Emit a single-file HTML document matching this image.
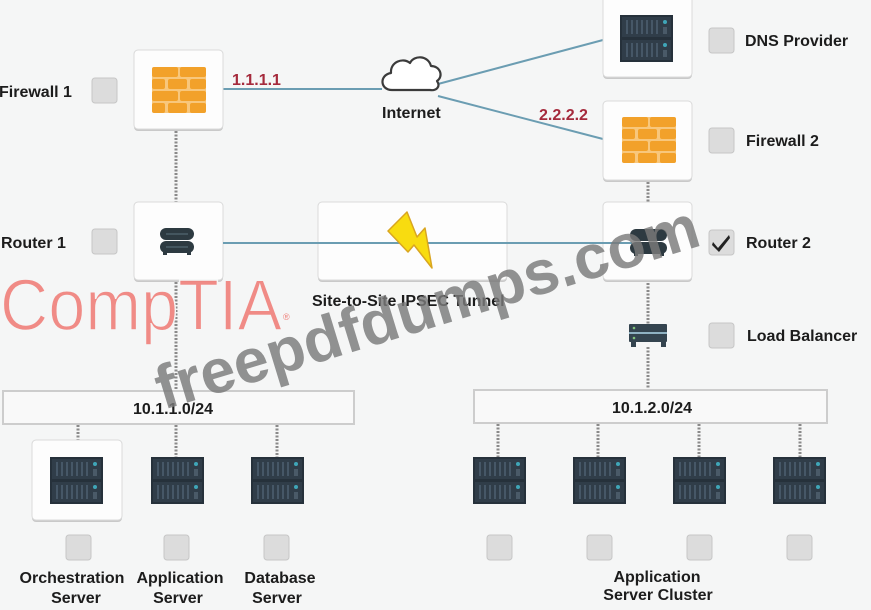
<!DOCTYPE html>
<html><head><meta charset="utf-8"><style>
html,body{margin:0;padding:0;background:#f5f6f6;}
svg{display:block;}
text{font-family:"Liberation Sans",Arial,sans-serif;}
</style></head><body>
<svg width="871" height="610" viewBox="0 0 871 610" xmlns="http://www.w3.org/2000/svg">
<defs>
<symbol id="srv" viewBox="0 0 53 47" width="53" height="47">
  <rect x="0" y="0" width="53" height="47" fill="#26313b"/>
  <rect x="2" y="2" width="49" height="20" fill="#303d49"/>
  <rect x="2" y="25" width="49" height="20" fill="#303d49"/>
  <g fill="#465767">
    <rect x="6" y="5" width="2" height="14"/><rect x="11" y="5" width="2" height="14"/><rect x="16" y="5" width="2" height="14"/><rect x="21" y="5" width="2" height="14"/><rect x="26" y="5" width="2" height="14"/><rect x="31" y="5" width="2" height="14"/><rect x="36" y="5" width="2" height="14"/>
    <rect x="6" y="28" width="2" height="14"/><rect x="11" y="28" width="2" height="14"/><rect x="16" y="28" width="2" height="14"/><rect x="21" y="28" width="2" height="14"/><rect x="26" y="28" width="2" height="14"/><rect x="31" y="28" width="2" height="14"/><rect x="36" y="28" width="2" height="14"/>
  </g>
  <circle cx="45" cy="7" r="2" fill="#3fa6b8"/>
  <circle cx="45" cy="30" r="2" fill="#3fa6b8"/>
  <rect x="43" y="12" width="4" height="7" fill="#4a5a68"/>
  <rect x="43" y="35" width="4" height="7" fill="#4a5a68"/>
</symbol>
<symbol id="fw" viewBox="0 0 54 46" width="54" height="46">
  <rect x="0" y="0" width="54" height="46" rx="3" fill="#f8c77c"/>
  <g fill="#f2a12a">
    <rect x="0" y="0" width="26" height="10" rx="2"/><rect x="28" y="0" width="26" height="10" rx="2"/>
    <rect x="0" y="12" width="13" height="10" rx="2"/><rect x="16" y="12" width="19" height="10" rx="2"/><rect x="38" y="12" width="16" height="10" rx="2"/>
    <rect x="0" y="24" width="26" height="10" rx="2"/><rect x="28" y="24" width="26" height="10" rx="2"/>
    <rect x="0" y="36" width="13" height="10" rx="2"/><rect x="16" y="36" width="19" height="10" rx="2"/><rect x="38" y="36" width="16" height="10" rx="2"/>
  </g>
</symbol>
</defs>

<!-- solid connectors -->
<g stroke="#6b9db2" stroke-width="2" fill="none">
  <line x1="223" y1="89" x2="382" y2="89"/>
  <line x1="438" y1="84" x2="603" y2="40"/>
  <line x1="438" y1="96" x2="603" y2="139"/>
</g>

<!-- dotted connectors -->
<g stroke="#8a8a8a" stroke-width="3" stroke-dasharray="2 1.5" fill="none">
  <line x1="176" y1="131" x2="176" y2="202"/>
  <line x1="176" y1="282" x2="176" y2="391"/>
  <line x1="648" y1="182" x2="648" y2="202"/>
  <line x1="648" y1="283" x2="648" y2="324"/>
  <line x1="648" y1="347" x2="648" y2="390"/>
  <line x1="78" y1="425" x2="78" y2="440"/>
  <line x1="176" y1="425" x2="176" y2="457"/>
  <line x1="277" y1="425" x2="277" y2="457"/>
  <line x1="498" y1="424" x2="498" y2="457"/>
  <line x1="598" y1="424" x2="598" y2="457"/>
  <line x1="699" y1="424" x2="699" y2="457"/>
  <line x1="800" y1="424" x2="800" y2="457"/>
</g>

<!-- boxes -->
<g>
  <rect x="134" y="52" width="89" height="79" rx="4" fill="#c9c9c9"/>
  <rect x="134" y="50" width="89" height="79" rx="4" fill="#fdfdfd" stroke="#dadada"/>
  <rect x="134" y="204" width="89" height="78" rx="4" fill="#c9c9c9"/>
  <rect x="134" y="202" width="89" height="78" rx="4" fill="#fdfdfd" stroke="#dadada"/>
  <rect x="318" y="204" width="189" height="78" rx="4" fill="#c9c9c9"/>
  <rect x="318" y="202" width="189" height="78" rx="4" fill="#fdfdfd" stroke="#dadada"/>
  <rect x="603" y="-3" width="89" height="82" rx="4" fill="#c9c9c9"/>
  <rect x="603" y="-5" width="89" height="82" rx="4" fill="#fdfdfd" stroke="#dadada"/>
  <rect x="603" y="103" width="89" height="79" rx="4" fill="#c9c9c9"/>
  <rect x="603" y="101" width="89" height="79" rx="4" fill="#fdfdfd" stroke="#dadada"/>
  <rect x="603" y="204" width="89" height="78" rx="4" fill="#c9c9c9"/>
  <rect x="603" y="202" width="89" height="78" rx="4" fill="#fdfdfd" stroke="#dadada"/>
  <rect x="32" y="442" width="90" height="80" rx="4" fill="#c9c9c9"/>
  <rect x="32" y="440" width="90" height="80" rx="4" fill="#fdfdfd" stroke="#dadada"/>
</g>

<!-- tunnel line -->
<line x1="223" y1="243" x2="632" y2="243" stroke="#6b9db2" stroke-width="2"/>

<!-- subnet bars -->
<rect x="3" y="391" width="351" height="33" fill="#f9f9f9" stroke="#cdcdcd" stroke-width="2"/>
<rect x="474" y="390" width="353" height="33" fill="#f9f9f9" stroke="#cdcdcd" stroke-width="2"/>

<!-- icons -->
<use href="#fw" x="152" y="67"/>
<use href="#fw" x="622" y="117"/>
<use href="#srv" x="620" y="15"/>
<use href="#srv" x="50" y="457"/>
<use href="#srv" x="151" y="457"/>
<use href="#srv" x="251" y="457"/>
<use href="#srv" x="473" y="457"/>
<use href="#srv" x="573" y="457"/>
<use href="#srv" x="673" y="457"/>
<use href="#srv" x="773" y="457"/>

<!-- cloud -->
<path d="M392 90 C380 90 379 75 391 73 C390 62 403 57 410 63 C414 55 428 55 431 66 C440 66 444 76 437 81 C441 87 436 91 430 90 Z" fill="#ffffff" stroke="#3b3b3b" stroke-width="2.2" stroke-linejoin="round"/>

<!-- router 1 -->
<g>
  <rect x="160" y="228" width="34" height="12" rx="6" fill="#2d3a41"/>
  <rect x="160" y="241" width="34" height="12" rx="6" fill="#2d3a41"/>
  <rect x="166" y="233" width="22" height="2" fill="#44565f"/>
  <rect x="166" y="246" width="22" height="2" fill="#44565f"/>
  <rect x="163" y="251" width="4" height="4" fill="#2d3a41"/>
  <rect x="187" y="251" width="4" height="4" fill="#2d3a41"/>
</g>
<!-- router 2 -->
<g>
  <rect x="630" y="229" width="37" height="12" rx="6" fill="#2d3a41"/>
  <rect x="630" y="242" width="37" height="12" rx="6" fill="#2d3a41"/>
  <rect x="634" y="252" width="4" height="4" fill="#2d3a41"/>
  <rect x="660" y="252" width="4" height="4" fill="#2d3a41"/>
</g>
<!-- load balancer -->
<g>
  <rect x="629" y="324" width="38" height="18" rx="1" fill="#34444f"/>
  <rect x="629" y="332" width="38" height="2" fill="#8fb2c2"/>
  <circle cx="634" cy="328" r="1.3" fill="#7fc27a"/>
  <circle cx="634" cy="338" r="1.3" fill="#7fc27a"/>
  <rect x="631" y="341" width="5" height="6" fill="#34444f"/>
  <rect x="661" y="341" width="5" height="6" fill="#34444f"/>
</g>

<!-- lightning -->
<polygon points="407,212 388,231 408,252 414,245 432,268 425,228 417,237" fill="#f8dc10" stroke="#d9a520" stroke-width="1.5" stroke-linejoin="round"/>

<!-- checkboxes -->
<g fill="#dcdcdc" stroke="#c6c6c6" stroke-width="1">
  <rect x="92" y="78" width="25" height="25" rx="3"/>
  <rect x="92" y="229" width="25" height="25" rx="3"/>
  <rect x="709" y="28" width="25" height="25" rx="3"/>
  <rect x="709" y="128" width="25" height="25" rx="3"/>
  <rect x="709" y="230" width="25" height="25" rx="3"/>
  <rect x="709" y="323" width="25" height="25" rx="3"/>
  <rect x="66" y="535" width="25" height="25" rx="3"/>
  <rect x="164" y="535" width="25" height="25" rx="3"/>
  <rect x="264" y="535" width="25" height="25" rx="3"/>
  <rect x="487" y="535" width="25" height="25" rx="3"/>
  <rect x="587" y="535" width="25" height="25" rx="3"/>
  <rect x="687" y="535" width="25" height="25" rx="3"/>
  <rect x="787" y="535" width="25" height="25" rx="3"/>
</g>
<path d="M713 242 L718 248 L729 235 L730 238 L719 252 L712 245 Z" fill="#222"/>

<!-- labels -->
<g font-weight="bold" font-size="16" fill="#1c1c1c">
  <text x="-1" y="97">Firewall 1</text>
  <text x="1" y="248">Router 1</text>
  <text x="745" y="46">DNS Provider</text>
  <text x="746" y="146">Firewall 2</text>
  <text x="746" y="248">Router 2</text>
  <text x="747" y="341">Load Balancer</text>
  <text x="382" y="118">Internet</text>
  <text x="312" y="306">Site-to-Site IPSEC Tunnel</text>
  <text x="173" y="414" text-anchor="middle">10.1.1.0/24</text>
  <text x="652" y="413" text-anchor="middle">10.1.2.0/24</text>
  <text x="72" y="583" text-anchor="middle">Orchestration</text>
  <text x="76" y="603" text-anchor="middle">Server</text>
  <text x="180" y="583" text-anchor="middle">Application</text>
  <text x="178" y="603" text-anchor="middle">Server</text>
  <text x="280" y="583" text-anchor="middle">Database</text>
  <text x="277" y="603" text-anchor="middle">Server</text>
  <text x="657" y="582" text-anchor="middle">Application</text>
  <text x="658" y="600" text-anchor="middle">Server Cluster</text>
  <text x="232" y="85" fill="#a52a3c">1.1.1.1</text>
  <text x="539" y="120" fill="#a52a3c">2.2.2.2</text>
</g>

<!-- watermarks -->
<text x="0" y="330" font-size="72" fill="#f0807a" fill-opacity="0.9" stroke="#f5f6f6" stroke-width="1.5" textLength="282" lengthAdjust="spacingAndGlyphs">CompTIA</text>
<text x="283" y="320" font-size="9" fill="#f0807a">®</text>
<text transform="translate(163,410) rotate(-17)" x="0" y="0" font-size="62" font-weight="bold" fill="#7a7a7a" fill-opacity="0.82" textLength="565" lengthAdjust="spacingAndGlyphs">freepdfdumps.com</text>
</svg>
</body></html>
